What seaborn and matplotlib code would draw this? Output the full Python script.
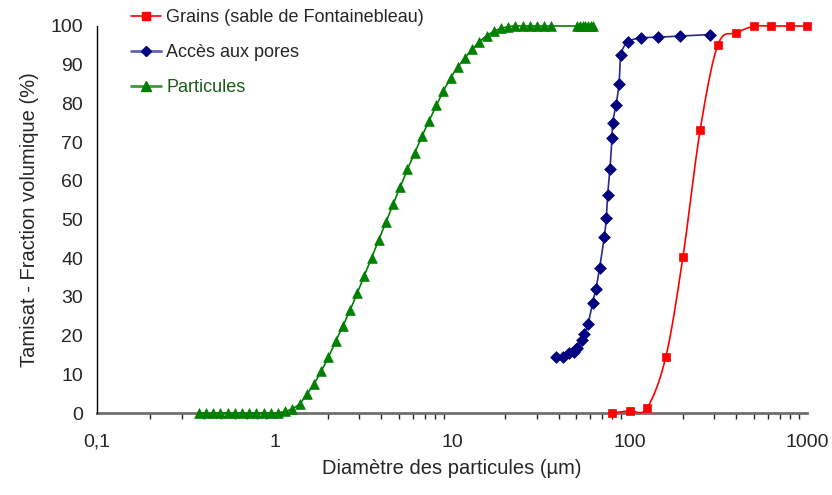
import numpy as np
import pandas as pd
import matplotlib
matplotlib.use("Agg")
import matplotlib.pyplot as plt
from matplotlib.lines import Line2D
import seaborn as sns

# ---------------- data ----------------
green_x = [0.375, 0.412, 0.452, 0.496, 0.545, 0.598, 0.657, 0.721, 0.791, 0.869,
           0.954, 1.047, 1.149, 1.261, 1.385, 1.520, 1.669, 1.832, 2.011, 2.208,
           2.424, 2.661, 2.921, 3.207, 3.521, 3.865, 4.243, 4.658, 5.113, 5.613,
           6.162, 6.765, 7.427, 8.153, 8.950, 9.826, 10.79, 11.84, 13.00, 14.27,
           15.67, 17.20, 18.88, 20.73, 22.76, 24.98, 27.43, 30.11, 33.05, 36.29,
           50.5, 52.5, 54.5, 56.5, 58.5, 60.5, 62.5]
green_y = [0, 0, 0, 0, 0, 0, 0, 0, 0, 0,
           0, 0.1, 0.4, 1.1, 2.4, 4.8, 7.5, 10.8, 14.4, 18.5,
           22.4, 26.5, 30.9, 35.5, 40.1, 44.8, 49.3, 54.0, 58.4, 63.0,
           67.2, 71.5, 75.5, 79.5, 83.2, 86.6, 89.4, 91.8, 94.0, 95.9,
           97.5, 98.6, 99.4, 99.8, 100, 100, 100, 100, 100, 100,
           100, 100, 100, 100, 100, 100, 100]

blue_x = [38.5, 42.0, 45.4, 48.4, 49.9, 50.6, 53.7, 55.6, 58.4, 61.9, 64.7, 67.8,
          72.1, 74.0, 75.3, 77.6, 79.7, 80.3, 83.9, 87.3, 89.6, 98.1, 116.1,
          144.3, 193.4, 285.5]
blue_y = [14.4, 14.4, 15.4, 15.8, 16.5, 16.9, 18.8, 20.4, 23.0, 28.4, 32.1, 37.4,
          45.5, 50.3, 56.3, 63.1, 71.1, 75.0, 79.5, 85.1, 92.6, 95.9, 96.9,
          97.1, 97.4, 97.8]

red_x = [80, 100, 125, 160, 200, 250, 315, 400, 500, 630, 800, 1000]
red_y = [0.0, 0.6, 1.2, 14.4, 40.3, 73.1, 95.2, 98.2, 99.9, 100, 100, 100]

labels = ["Grains (sable de Fontainebleau)", "Accès aux pores", "Particules"]
x_ticks = [0.1, 1, 10, 100, 1000]
x_tick_labels = ["0,1", "1", "10", "100", "1000"]
y_ticks = list(range(0, 101, 10))

# ---------------- style ----------------
sns.set_style("white")
plt.rcParams["font.family"] = ["Liberation Sans", "DejaVu Sans"]

fig = plt.figure(figsize=(8.32, 4.95), dpi=100)
ax = fig.add_axes([97 / 832, 1 - 413 / 495, (807 - 97) / 832, (413 - 26) / 495])


def smooth(xs, ys, n=20):
    """Excel-like smoothed line (Catmull-Rom Bezier in display-proportional space)."""
    u = np.log10(np.asarray(xs, float)) * 177.4
    v = np.asarray(ys, float) * 3.873
    pts = np.column_stack([u, v])
    out = [pts[0]]
    for i in range(len(pts) - 1):
        p0 = pts[i - 1] if i > 0 else pts[i]
        p1 = pts[i]
        p2 = pts[i + 1]
        p3 = pts[i + 2] if i + 2 < len(pts) else pts[i + 1]
        c1 = p1 + (p2 - p0) / 6.0
        c2 = p2 - (p3 - p1) / 6.0
        t = np.linspace(0, 1, n)[1:, None]
        seg = ((1 - t) ** 3) * p1 + 3 * ((1 - t) ** 2) * t * c1 + 3 * (1 - t) * t ** 2 * c2 + t ** 3 * p2
        out.extend(seg)
    out = np.array(out)
    return 10 ** (out[:, 0] / 177.4), out[:, 1] / 3.873


series = [
    (red_x, red_y, "#FF0000", "#FF0000", "s", 6.0, labels[0]),
    (blue_x, blue_y, "#2A2A8A", "#000080", "D", 6.0, labels[1]),
    (green_x, green_y, "#008000", "#008000", "^", 7.0, labels[2]),
]

for xs, ys, lc, mc, mk, ms, lab in series:
    sx, sy = smooth(xs, ys)
    ax.plot(sx, sy, color=lc, lw=1.2, zorder=2, clip_on=False)
    df = pd.DataFrame({"x": xs, "y": ys})
    sns.scatterplot(data=df, x="x", y="y", ax=ax, marker=mk, s=ms ** 2,
                    color=mc, edgecolor=mc, linewidth=0.5, zorder=3, legend=False)
    ax.collections[-1].set_clip_on(False)

ax.set_xscale("log")
ax.set_xlim(0.1, 1000)
ax.set_ylim(0, 100)
ax.set_xticks(x_ticks)
ax.set_xticklabels(x_tick_labels)
ax.set_yticks(y_ticks)
ax.tick_params(axis="both", labelsize=14, direction="out", color="#404040")
ax.tick_params(axis="x", which="major", length=7, width=1, pad=8)
ax.tick_params(axis="x", which="minor", length=4, width=1, bottom=True)
ax.tick_params(axis="y", which="major", length=6, width=1, pad=4)
ax.xaxis.set_minor_locator(matplotlib.ticker.LogLocator(base=10, subs=np.arange(2, 10)))
ax.xaxis.set_minor_formatter(matplotlib.ticker.NullFormatter())

for side in ["top", "right"]:
    ax.spines[side].set_visible(False)
ax.spines["left"].set_color("black")
ax.spines["left"].set_linewidth(1.0)
ax.spines["bottom"].set_color("#707070")
ax.spines["bottom"].set_linewidth(2.0)
ax.spines["bottom"].set_zorder(1)

ax.set_xlabel("Diamètre des particules (µm)", fontsize=14.5, labelpad=6)
ax.set_ylabel("Tamisat - Fraction volumique (%)", fontsize=14.5, labelpad=8)
ax.set_facecolor("white")
fig.patch.set_facecolor("white")

handles = [
    Line2D([], [], color="#FF0000", marker="s", markersize=6, lw=1.2,
           markerfacecolor="#FF0000", markeredgecolor="#FF0000"),
    Line2D([], [], color="#6060B8", marker="D", markersize=5.5, lw=2,
           markerfacecolor="#000080", markeredgecolor="#000080"),
    Line2D([], [], color="#3C9A3C", marker="^", markersize=7, lw=2,
           markerfacecolor="#008000", markeredgecolor="#008000"),
]
leg = fig.legend(handles, labels, loc="upper left",
                 bbox_to_anchor=(124 / 832, 1 - 2 / 495), frameon=False,
                 fontsize=13, handlelength=1.65, handletextpad=0.3,
                 labelspacing=1.0, borderaxespad=0)
leg.get_texts()[2].set_color("#1A5C1A")

fig.savefig("out.png", dpi=100, facecolor="white")
